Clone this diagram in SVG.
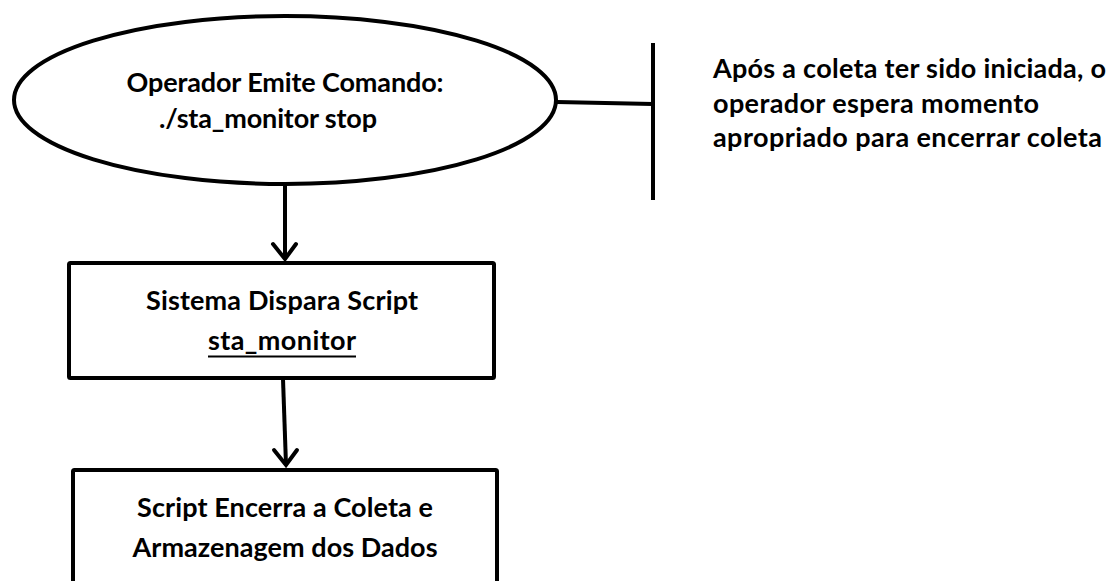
<svg xmlns="http://www.w3.org/2000/svg" width="1110" height="581" viewBox="0 0 1110 581">
  <style>
    .shape { fill: #ffffff; stroke: #000000; stroke-width: 4; }
    .line { fill: none; stroke: #000000; stroke-width: 4; stroke-linecap: butt; }
    .head { fill: none; stroke: #000000; stroke-width: 4; stroke-linecap: round; stroke-linejoin: miter; }
    .label { font-family: Lato, "Open Sans", "Liberation Sans", sans-serif; font-weight: bold; font-size: 27px; fill: #000000; }
    .mid { text-anchor: middle; }
  </style>
  <rect width="1110" height="581" fill="#ffffff"/>

  <!-- connectors -->
  <g id="connectors">
    <!-- ellipse to note bracket -->
    <line class="line" x1="557" y1="102" x2="653" y2="104"/>
    <line class="line" x1="653" y1="43" x2="653" y2="200"/>
    <!-- ellipse to first box -->
    <line class="line" x1="285" y1="185" x2="285" y2="259"/>
    <polyline class="head" points="273,244 285,259 296,244"/>
    <!-- first box to second box -->
    <line class="line" x1="283" y1="379" x2="286" y2="465"/>
    <polyline class="head" points="274,450 286,465 297,450"/>
  </g>

  <!-- start node: operator command -->
  <g id="node-command">
    <ellipse class="shape" cx="285" cy="100" rx="271" ry="84"/>
    <text class="label mid" x="285" y="92" textLength="317" lengthAdjust="spacing">Operador Emite Comando:</text>
    <text class="label mid" x="268" y="128" textLength="218" lengthAdjust="spacing">./sta_monitor stop</text>
  </g>

  <!-- note beside the bracket -->
  <g id="node-note">
    <text class="label" x="713" y="78" textLength="393" lengthAdjust="spacing">Após a coleta ter sido iniciada, o</text>
    <text class="label" x="713" y="113" textLength="326" lengthAdjust="spacing">operador espera momento</text>
    <text class="label" x="713" y="147" textLength="389" lengthAdjust="spacing">apropriado para encerrar coleta</text>
  </g>

  <!-- process: system triggers script -->
  <g id="node-trigger">
    <rect class="shape" x="69" y="263" width="425" height="115" rx="1.5"/>
    <text class="label mid" x="282" y="310" textLength="272" lengthAdjust="spacing">Sistema Dispara Script</text>
    <text class="label mid" x="282" y="350" textLength="148" lengthAdjust="spacing">sta_monitor</text>
    <line x1="208" y1="356.5" x2="356" y2="356.5" stroke="#000000" stroke-width="2"/>
  </g>

  <!-- process: script stops collection -->
  <g id="node-finish">
    <rect class="shape" x="73" y="470" width="424" height="130" rx="1.5"/>
    <text class="label mid" x="285" y="517" textLength="296" lengthAdjust="spacing">Script Encerra a Coleta e</text>
    <text class="label mid" x="285" y="557" textLength="305" lengthAdjust="spacing">Armazenagem dos Dados</text>
  </g>
</svg>
